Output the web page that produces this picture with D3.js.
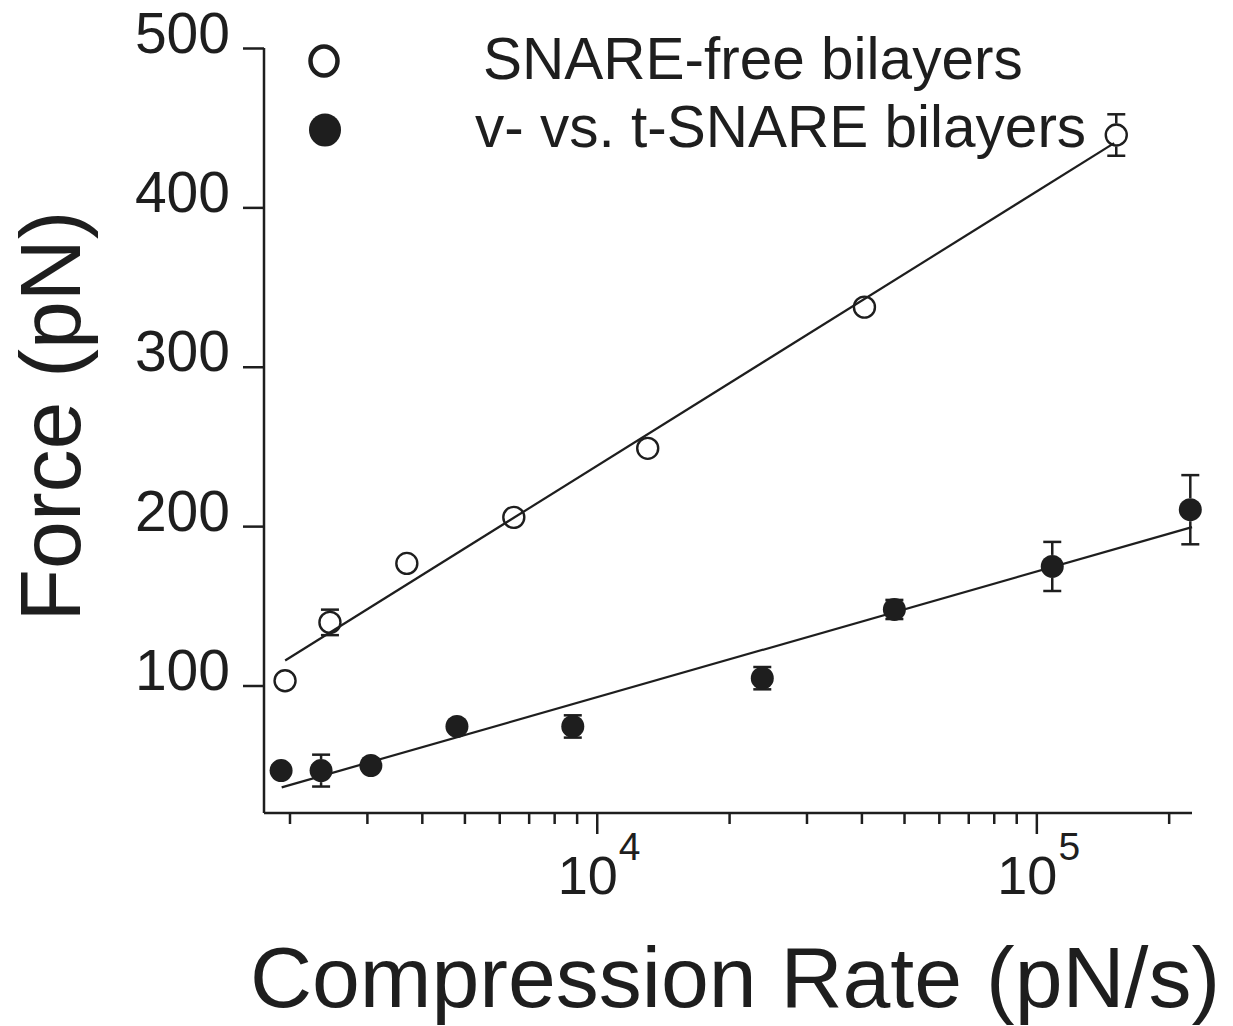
<!DOCTYPE html>
<html>
<head>
<meta charset="utf-8">
<script src="https://cdn.jsdelivr.net/npm/d3@7/dist/d3.min.js"></script>
<style>
  html, body { margin: 0; padding: 0; background: #fff; }
  svg text { font-family: "Liberation Sans", Arial, sans-serif; fill: #1e1e1e; }
</style>
</head>
<body>
<svg id="chart" width="1233" height="1026"></svg>
<script>
// ---- data ----
const openRate   = [1954, 2472, 3698, 6476, 13060, 40640, 152000];
const openForce  = [103, 139.6, 176.6, 205.5, 248.8, 337.4, 445.4];
const openErr    = [0, 8, 0, 0, 0, 0, 13];

const filledRate  = [1914, 2360, 3063, 4808, 8820, 23800, 47540, 108700, 224000];
const filledForce = [46.6, 46.6, 49.8, 74.3, 74.3, 104.6, 147.7, 174.7, 210.3];
const filledErr   = [0, 10, 0, 0, 7, 7, 6, 15.4, 21.7];

const fitOpenRate   = [1955, 150300];
const fitOpenForce  = [115.7, 440.3];
const fitFilledRate  = [1920, 226000];
const fitFilledForce = [36.1, 199.4];

const yTicks = [100, 200, 300, 400, 500];
const xMajor = [1e4, 1e5];
const xMajorLabels = [["10", "4"], ["10", "5"]];
const xMinor = [2000,3000,4000,5000,6000,7000,8000,9000,20000,30000,40000,50000,60000,70000,80000,90000,200000];

const legendLabels = ["SNARE-free bilayers", "v- vs. t-SNARE bilayers"];
const xTitle = "Compression Rate (pN/s)";
const yTitle = "Force (pN)";

// ---- layout ----
const svg = d3.select("#chart");
const L = 264, R = 1192, T = 48, B = 813;
const ink = "#1e1e1e";
const x = d3.scaleLog().domain([1750, 226000]).range([L, R]);
const y = d3.scaleLinear().domain([20, 500]).range([B, T]);

// y axis
const yAxis = d3.axisLeft(y).tickValues(yTicks).tickSize(21).tickSizeOuter(0).tickFormat(d3.format("d"));
const gy = svg.append("g").attr("transform", `translate(${L},0)`).call(yAxis);
gy.select(".domain").attr("stroke", ink).attr("stroke-width", 2.5).attr("d", `M0,${T}V${B}`);
gy.selectAll(".tick line").attr("stroke", ink).attr("stroke-width", 2.5);
gy.selectAll(".tick text").attr("font-size", 57).attr("x", -34).attr("dy", 4)
  .attr("fill", ink).style("dominant-baseline", "auto");

// x axis (major)
const xAxis = d3.axisBottom(x).tickValues(xMajor).tickSize(21).tickSizeOuter(0).tickFormat("");
const gx = svg.append("g").attr("transform", `translate(0,${B})`).call(xAxis);
gx.select(".domain").attr("stroke", ink).attr("stroke-width", 2.5).attr("d", `M${L},0H${R}`);
gx.selectAll(".tick line").attr("stroke", ink).attr("stroke-width", 2.5);
// minor ticks
const xAxisMinor = d3.axisBottom(x).tickValues(xMinor).tickSize(11).tickSizeOuter(0).tickFormat("");
const gxm = svg.append("g").attr("transform", `translate(0,${B})`).call(xAxisMinor);
gxm.select(".domain").remove();
gxm.selectAll(".tick line").attr("stroke", ink).attr("stroke-width", 2.5);

// x major labels with superscripts
xMajor.forEach((v, i) => {
  const t = svg.append("text").attr("x", x(v) - 39).attr("y", 894).attr("font-size", 54);
  t.append("tspan").text(xMajorLabels[i][0]);
  t.append("tspan").attr("font-size", 39).attr("dy", -34).attr("dx", 1).text(xMajorLabels[i][1]);
});

// axis titles
svg.append("text").attr("x", 735).attr("y", 1007).attr("text-anchor", "middle")
  .attr("font-size", 86).text(xTitle);
svg.append("text").attr("transform", `translate(80,${416}) rotate(-90)`).attr("text-anchor", "middle")
  .attr("font-size", 86).text(yTitle);

// fit lines
const line = d3.line().x(d => x(d[0])).y(d => y(d[1]));
svg.append("path").datum(fitOpenRate.map((r, i) => [r, fitOpenForce[i]]))
  .attr("d", line).attr("fill", "none").attr("stroke", ink).attr("stroke-width", 2.2);
svg.append("path").datum(fitFilledRate.map((r, i) => [r, fitFilledForce[i]]))
  .attr("d", line).attr("fill", "none").attr("stroke", ink).attr("stroke-width", 2.2);

const rM = 11.5, capW = 9;
function drawErr(rates, forces, errs) {
  rates.forEach((r, i) => {
    const e = errs[i];
    if (!e) return;
    const cx = x(r), yt = y(forces[i] + e), yb = y(forces[i] - e), cy = y(forces[i]);
    const g = svg.append("g").attr("stroke", ink).attr("stroke-width", 2.5);
    if (cy - yt > rM) g.append("line").attr("x1", cx).attr("x2", cx).attr("y1", yt).attr("y2", cy - rM);
    if (yb - cy > rM) g.append("line").attr("x1", cx).attr("x2", cx).attr("y1", cy + rM).attr("y2", yb);
    g.append("line").attr("x1", cx - capW).attr("x2", cx + capW).attr("y1", yt).attr("y2", yt);
    g.append("line").attr("x1", cx - capW).attr("x2", cx + capW).attr("y1", yb).attr("y2", yb);
  });
}
drawErr(openRate, openForce, openErr);
drawErr(filledRate, filledForce, filledErr);

svg.append("g").selectAll("circle").data(openRate.map((r, i) => [r, openForce[i]])).join("circle")
  .attr("cx", d => x(d[0])).attr("cy", d => y(d[1])).attr("r", rM - 1)
  .attr("fill", "none").attr("stroke", ink).attr("stroke-width", 2.4);
svg.append("g").selectAll("circle").data(filledRate.map((r, i) => [r, filledForce[i]])).join("circle")
  .attr("cx", d => x(d[0])).attr("cy", d => y(d[1])).attr("r", rM)
  .attr("fill", ink).attr("stroke", "none");

// legend
svg.append("ellipse").attr("cx", 324).attr("cy", 61).attr("rx", 13.5).attr("ry", 14.5)
  .attr("fill", "none").attr("stroke", ink).attr("stroke-width", 4.5);
svg.append("ellipse").attr("cx", 325).attr("cy", 130).attr("rx", 16).attr("ry", 16.5).attr("fill", ink);
svg.append("text").attr("x", 483).attr("y", 79).attr("font-size", 58.5).text(legendLabels[0]);
svg.append("text").attr("x", 475).attr("y", 147).attr("font-size", 58.5).text(legendLabels[1]);
</script>
</body>
</html>
